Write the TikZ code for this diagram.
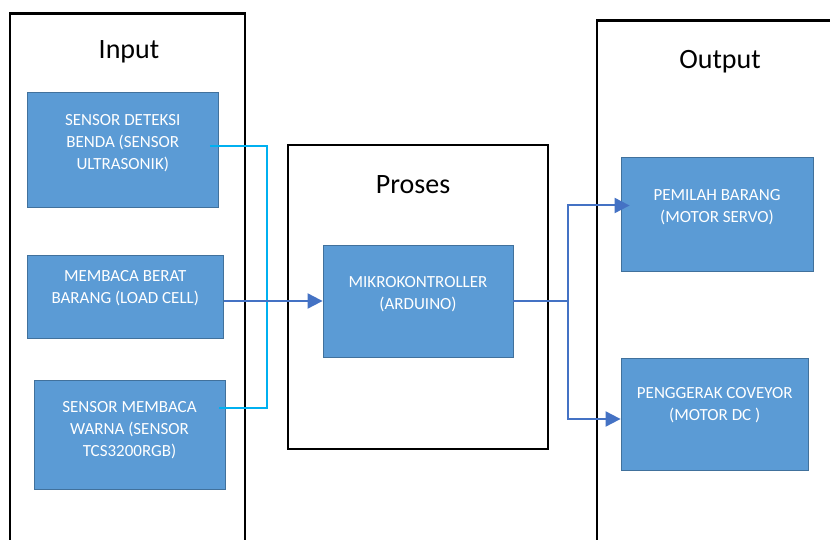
\documentclass[tikz,border=0pt]{standalone}
\usepackage{fontspec}
\setmainfont{Carlito}
\usetikzlibrary{arrows.meta, positioning}

\definecolor{kotak}{HTML}{5B9BD5}
\definecolor{tepi}{HTML}{41719C}
\definecolor{panah}{HTML}{4472C4}
\definecolor{kabel}{HTML}{00B0F0}

\begin{document}
\begin{tikzpicture}[x=1pt, y=-1pt,
        blok/.style 2 args={draw=tepi, line width=0.8pt, fill=kotak, minimum width=#1, minimum height=#2, inner sep=0pt},
        isi/.style={text=white, font=\fontsize{17}{22}\selectfont, align=center, inner sep=0pt, anchor=north},
        bingkai/.style={draw=black, line width=2.4pt},
        judul/.style={font=\fontsize{28}{32}\selectfont, inner sep=0pt},
        alir/.style={draw=panah, line width=2pt, -{Triangle[length=15pt, width=15pt]}},
        kabelbiru/.style={draw=kabel, line width=2pt}]
        \useasboundingbox (0,0) rectangle (830,540);
        \clip (0,0) rectangle (830,540);

        % bingkai
        \draw[bingkai] (10,13.5) rectangle (245,560);
        \draw[bingkai] (288,145) rectangle (548,449);
        \draw[bingkai] (597,20.5) rectangle (850,560);
        \node[judul] (tInput)  at (129,52) {Input};
        \node[judul] (tProses) at (413,185) {Proses};
        \node[judul] (tOutput) at (720,62) {Output};

        % input
        \node[blok={191.5}{114.5}, label={[isi, yshift=-22pt]north:{SENSOR DETEKSI\\BENDA (SENSOR\\ULTRASONIK)}}] (sdb) at (122.75,149.75) {};
        \node[blok={196.5}{83.5}, label={[isi, yshift=-15.5pt]north:{MEMBACA BERAT\\BARANG (LOAD CELL)}}] (mbb) at (125.25,296.75) {};
        \node[blok={191}{109}, label={[isi, yshift=-21.5pt]north:{SENSOR MEMBACA\\WARNA (SENSOR\\TCS3200RGB)}}] (smw) at (129.5,434.5) {};

        % proses
        \node[blok={190}{112}, label={[isi, yshift=-31.5pt]north:{MIKROKONTROLLER\\(ARDUINO)}}] (mikro) at (418,301) {};

        % output
        \node[blok={192}{113.5}, label={[isi, yshift=-32.5pt]north:{PEMILAH BARANG\\(MOTOR SERVO)}}] (servo) at (717,214.25) {};
        \node[blok={187.5}{112.5}, label={[isi, yshift=-29.5pt]north:{PENGGERAK COVEYOR\\(MOTOR DC )}}] (dc) at (714.75,414.25) {};

        \coordinate (kAtas) at (267,146);
        \coordinate (kBawah) at (267,408);
        \coordinate (cabang) at (568,301);

        \draw[kabelbiru] ([xshift=-9pt]sdb.east |- kAtas) -- (kAtas) -- (kBawah) -- ([xshift=-6pt]smw.east |- kBawah);
        \draw[alir] (mbb.east |- mikro.west) -- (mikro.west);
        \draw[draw=panah, line width=2pt] (mikro.east) -- (cabang);
        \draw[alir] (cabang) |- ([xshift=9pt, yshift=8.75pt]servo.west);
        \draw[alir] (cabang) |- ([yshift=-4.75pt]dc.west);
\end{tikzpicture}
\end{document}
